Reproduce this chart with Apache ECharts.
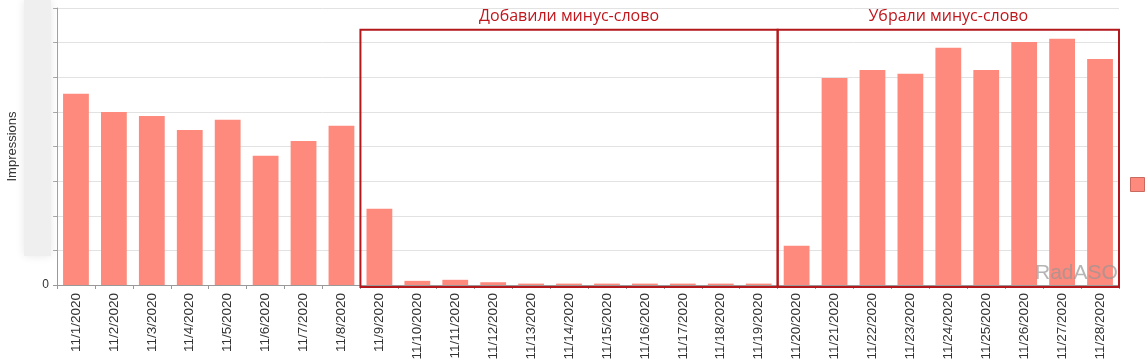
<!DOCTYPE html>
<html>
<head>
<meta charset="utf-8">
<script src="https://cdn.jsdelivr.net/npm/echarts@6/dist/echarts.min.js"></script>
<style>
    html, body { margin: 0; padding: 0; background: #fff; }
    #chart { width: 1147px; height: 362px; }
</style>
</head>
<body>
<div id="chart"></div>
<script>
// dates, Nov 2020
const categories = [
    '11/1/2020', '11/2/2020', '11/3/2020', '11/4/2020', '11/5/2020', '11/6/2020', '11/7/2020',
    '11/8/2020', '11/9/2020', '11/10/2020', '11/11/2020', '11/12/2020', '11/13/2020', '11/14/2020',
    '11/15/2020', '11/16/2020', '11/17/2020', '11/18/2020', '11/19/2020', '11/20/2020', '11/21/2020',
    '11/22/2020', '11/23/2020', '11/24/2020', '11/25/2020', '11/26/2020', '11/27/2020', '11/28/2020'
];
// impressions (axis scale is blurred in the source, values are relative)
const impressions = [
    5520, 5000, 4880, 4480, 4770, 3730, 4160,
    4600, 2200, 120, 150, 80, 40, 40,
    40, 40, 40, 40, 40, 1130, 5980,
    6210, 6100, 6850, 6210, 7020, 7110, 6530
];
const yTicks = { min: 0, max: 8000, interval: 1000 };
// annotated periods
const periods = [
    { label: 'Добавили минус-слово', from: '11/9/2020', to: '11/19/2020' },
    { label: 'Убрали минус-слово', from: '11/20/2020', to: '11/28/2020' }
];
const boxTop = 7370;

const barColor = '#fd8a7c';
const boxColor = '#b3191c';

const chart = echarts.init(document.getElementById('chart'));
chart.setOption({
    animation: false,
    grid: { left: 57, right: 28, top: 8, bottom: 77, outerBoundsMode: 'none', containLabel: false },
    legend: {
        left: 1125, top: 172,
        icon: 'rect', itemWidth: 14, itemHeight: 14,
        data: [{ name: ' ', itemStyle: { borderColor: '#c96a60', borderWidth: 1 } }],
        textStyle: { fontSize: 1 }
    },
    xAxis: {
        type: 'category',
        data: categories,
        axisLine: { lineStyle: { color: '#999' } },
        axisTick: { show: true, length: 4, lineStyle: { color: '#999' } },
        axisLabel: {
            rotate: 90, interval: 0, margin: 8,
            fontFamily: 'Liberation Sans', fontSize: 13.5, color: '#333'
        }
    },
    yAxis: {
        type: 'value',
        min: yTicks.min, max: yTicks.max, interval: yTicks.interval,
        name: 'Impressions', nameLocation: 'middle', nameGap: 38,
        nameTextStyle: { fontFamily: 'Liberation Sans', fontSize: 13, color: '#333' },
        axisLine: { show: true, lineStyle: { color: '#999' } },
        axisTick: { show: true, length: 4, lineStyle: { color: '#999' } },
        splitLine: { lineStyle: { color: '#e2e2e2' } },
        axisLabel: {
            fontFamily: 'Liberation Sans', fontSize: 12, color: '#333',
            formatter: v => (v === 0 ? '0' : '')
        }
    },
    series: [{
        name: ' ',
        type: 'bar',
        data: impressions,
        barCategoryGap: '32%',
        itemStyle: { color: barColor }
    }]
});

// boxes + captions, placed through the axes
const c0 = chart.convertToPixel({ xAxisIndex: 0 }, categories[0]);
const c1 = chart.convertToPixel({ xAxisIndex: 0 }, categories[1]);
const half = (c1 - c0) / 2;
const yTop = chart.convertToPixel({ yAxisIndex: 0 }, boxTop);
const yBottom = chart.convertToPixel({ yAxisIndex: 0 }, 0) + 2;

const graphics = [];
periods.forEach(p => {
    const x0 = chart.convertToPixel({ xAxisIndex: 0 }, p.from) - half;
    const x1 = chart.convertToPixel({ xAxisIndex: 0 }, p.to) + half;
    graphics.push({
        type: 'rect', z: 10,
        shape: { x: x0, y: yTop, width: x1 - x0, height: yBottom - yTop },
        style: { fill: 'none', stroke: boxColor, lineWidth: 2 }
    });
    graphics.push({
        type: 'text', z: 10,
        x: (x0 + x1) / 2, y: yTop - 13,
        style: {
            text: p.label, fill: '#c0171d',
            font: '16px "Open Sans", "DejaVu Sans", sans-serif',
            align: 'center', verticalAlign: 'middle'
        }
    });
});
// blurred y labels of the source
graphics.push({
    type: 'rect', z: 1,
    shape: { x: 24, y: 0, width: 27, height: 256 },
    style: { fill: '#efefef', shadowBlur: 10, shadowColor: '#e8e8e8' }
});
// watermark
graphics.push({
    type: 'text', z: 11,
    x: 1035, y: 273,
    style: {
        text: 'RadASO', fill: 'rgba(150,150,150,0.7)',
        font: '21px "Liberation Sans", sans-serif',
        verticalAlign: 'middle'
    }
});
chart.setOption({ graphic: graphics });
</script>
</body>
</html>
